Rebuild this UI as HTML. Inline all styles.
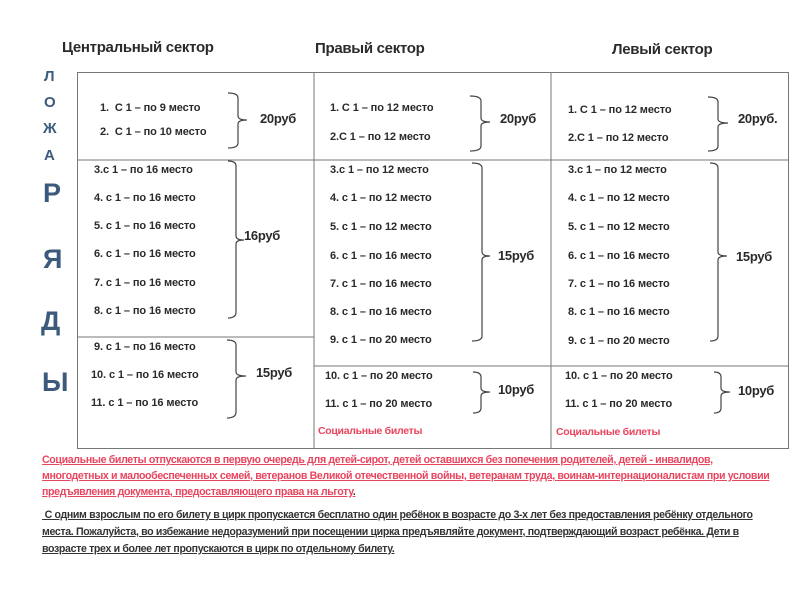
<!DOCTYPE html>
<html><head><meta charset="utf-8"><style>
body{margin:0;width:810px;height:589px;background:#fff;position:relative;overflow:hidden;font-family:"Liberation Sans","DejaVu Sans",sans-serif;}
.t{position:absolute;font-size:11px;font-weight:bold;color:#2a2a2a;line-height:14px;white-space:nowrap;letter-spacing:-0.1px}
.p{position:absolute;font-size:13px;font-weight:bold;color:#2a2a2a;line-height:16px;white-space:nowrap;letter-spacing:-0.3px}
.h{position:absolute;font-size:15px;font-weight:bold;color:#2a2a2a;white-space:nowrap;letter-spacing:-0.3px}
.v{position:absolute;font-weight:bold;color:#3c5a7c;}
.s{position:absolute;font-size:10.5px;font-weight:bold;color:#e8455e;white-space:nowrap;letter-spacing:-0.3px}
.f{position:absolute;left:42px;font-size:10.6px;font-weight:bold;text-decoration:underline;white-space:nowrap;letter-spacing:-0.35px;line-height:16px}
</style></head><body>
<div class="h" style="left:62px;top:39px">Центральный сектор</div>
<div class="h" style="left:315px;top:40px">Правый сектор</div>
<div class="h" style="left:612px;top:41px">Левый сектор</div>

<div class="v" style="left:44px;top:68px;font-size:15px">Л</div>
<div class="v" style="left:44px;top:94px;font-size:15px">О</div>
<div class="v" style="left:43px;top:120px;font-size:15px">Ж</div>
<div class="v" style="left:44px;top:147px;font-size:15px">А</div>
<div class="v" style="left:43px;top:178px;font-size:27px">Р</div>
<div class="v" style="left:43px;top:244px;font-size:27px">Я</div>
<div class="v" style="left:41px;top:306px;font-size:27px">Д</div>
<div class="v" style="left:42px;top:367px;font-size:27px">Ы</div>

<svg style="position:absolute;left:0;top:0" width="810" height="589">
<g stroke="#777" stroke-width="1" fill="none">
<rect x="77.5" y="72.5" width="711" height="376"/>
<line x1="314" y1="72" x2="314" y2="449"/>
<line x1="551" y1="72" x2="551" y2="449"/>
<line x1="77" y1="160" x2="314" y2="160"/>
<line x1="77" y1="337" x2="314" y2="337"/>
<line x1="314" y1="160" x2="788" y2="160"/>
<line x1="314" y1="366" x2="788" y2="366"/>
</g>
<g stroke="#444" stroke-width="1.2" fill="none">
<path d="M228 93 Q238 93 238 98 L238 116 Q238 120 247 120 Q238 120 238 124 L238 143 Q238 148 228 148"/>
<path d="M228 161 Q236 161 236 166 L236 236 Q236 240 244 240 Q236 240 236 244 L236 312 Q236 318 228 318"/>
<path d="M227 340 Q236 340 236 345 L236 372 Q236 376 246 376 Q236 376 236 380 L236 412 Q236 418 227 418"/>
<path d="M470 96 Q481 96 481 101 L481 118 Q481 122 490 122 Q481 122 481 126 L481 146 Q481 151 470 151"/>
<path d="M472 163 Q482 163 482 168 L482 252 Q482 256 490 256 Q482 256 482 260 L482 336 Q482 341 472 341"/>
<path d="M473 372 Q481 372 481 377 L481 388 Q481 392 490 392 Q481 392 481 396 L481 408 Q481 413 473 413"/>
<path d="M708 97 Q718 97 718 102 L718 119 Q718 123 728 123 Q718 123 718 127 L718 146 Q718 151 708 151"/>
<path d="M710 163 Q718 163 718 168 L718 252 Q718 256 727 256 Q718 256 718 260 L718 336 Q718 341 710 341"/>
<path d="M714 372 Q721 372 721 377 L721 388 Q721 392 730 392 Q721 392 721 396 L721 408 Q721 413 714 413"/>
</g>
</svg>

<div class="t" style="left:100px;top:101px">1.&nbsp; С 1 – по 9 место</div>
<div class="t" style="left:100px;top:125px">2.&nbsp; С 1 – по 10 место</div>
<div class="p" style="left:260px;top:111px">20руб</div>
<div class="t" style="left:94px;top:163px">3.с 1 – по 16 место</div>
<div class="t" style="left:94px;top:191px">4. с 1 – по 16 место</div>
<div class="t" style="left:94px;top:219px">5. с 1 – по 16 место</div>
<div class="t" style="left:94px;top:247px">6. с 1 – по 16 место</div>
<div class="t" style="left:94px;top:276px">7. с 1 – по 16 место</div>
<div class="t" style="left:94px;top:304px">8. с 1 – по 16 место</div>
<div class="p" style="left:244px;top:228px">16руб</div>
<div class="t" style="left:94px;top:340px">9. с 1 – по 16 место</div>
<div class="t" style="left:91px;top:368px">10. с 1 – по 16 место</div>
<div class="t" style="left:91px;top:396px">11. с 1 – по 16 место</div>
<div class="p" style="left:256px;top:365px">15руб</div>

<div class="t" style="left:330px;top:101px">1. С 1 – по 12 место</div>
<div class="t" style="left:330px;top:130px">2.С 1 – по 12 место</div>
<div class="p" style="left:500px;top:111px">20руб</div>
<div class="t" style="left:330px;top:163px">3.с 1 – по 12 место</div>
<div class="t" style="left:330px;top:191px">4. с 1 – по 12 место</div>
<div class="t" style="left:330px;top:220px">5. с 1 – по 12 место</div>
<div class="t" style="left:330px;top:249px">6. с 1 – по 16 место</div>
<div class="t" style="left:330px;top:277px">7. с 1 – по 16 место</div>
<div class="t" style="left:330px;top:305px">8. с 1 – по 16 место</div>
<div class="t" style="left:330px;top:333px">9. с 1 – по 20 место</div>
<div class="p" style="left:498px;top:248px">15руб</div>
<div class="t" style="left:325px;top:369px">10. с 1 – по 20 место</div>
<div class="t" style="left:325px;top:397px">11. с 1 – по 20 место</div>
<div class="p" style="left:498px;top:382px">10руб</div>
<div class="s" style="left:318px;top:425px">Социальные билеты</div>

<div class="t" style="left:568px;top:103px">1. С 1 – по 12 место</div>
<div class="t" style="left:568px;top:131px">2.С 1 – по 12 место</div>
<div class="p" style="left:738px;top:111px">20руб.</div>
<div class="t" style="left:568px;top:163px">3.с 1 – по 12 место</div>
<div class="t" style="left:568px;top:191px">4. с 1 – по 12 место</div>
<div class="t" style="left:568px;top:220px">5. с 1 – по 12 место</div>
<div class="t" style="left:568px;top:249px">6. с 1 – по 16 место</div>
<div class="t" style="left:568px;top:277px">7. с 1 – по 16 место</div>
<div class="t" style="left:568px;top:305px">8. с 1 – по 16 место</div>
<div class="t" style="left:568px;top:334px">9. с 1 – по 20 место</div>
<div class="p" style="left:736px;top:249px">15руб</div>
<div class="t" style="left:565px;top:369px">10. с 1 – по 20 место</div>
<div class="t" style="left:565px;top:397px">11. с 1 – по 20 место</div>
<div class="p" style="left:738px;top:383px">10руб</div>
<div class="s" style="left:556px;top:426px">Социальные билеты</div>

<div class="f" style="top:452px;color:#e8455e">Социальные билеты отпускаются в первую очередь для детей-сирот, детей оставшихся без попечения родителей, детей - инвалидов,</div>
<div class="f" style="top:468px;color:#e8455e">многодетных и малообеспеченных семей, ветеранов Великой отечественной войны, ветеранам труда, воинам-интернационалистам при условии</div>
<div class="f" style="top:484px;color:#e8455e">предъявления документа, предоставляющего права на льготу<span style="color:#333">.</span></div>
<div class="f" style="top:507px;color:#333">&nbsp;С одним взрослым по его билету в цирк пропускается бесплатно один ребёнок в возрасте до 3-х лет без предоставления ребёнку отдельного</div>
<div class="f" style="top:524px;color:#333">места. Пожалуйста, во избежание недоразумений при посещении цирка предъявляйте документ, подтверждающий возраст ребёнка. Дети в</div>
<div class="f" style="top:541px;color:#333">возрасте трех и более лет пропускаются в цирк по отдельному билету.</div>
</body></html>
